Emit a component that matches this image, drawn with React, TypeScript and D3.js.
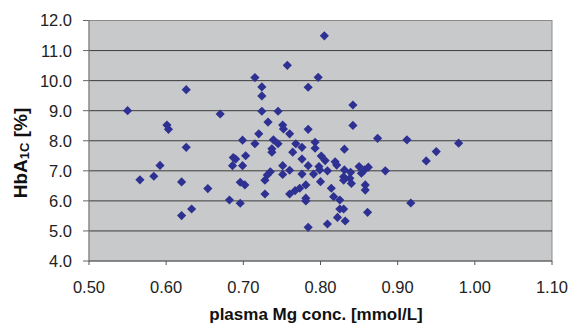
import * as d3 from 'd3';
import * as React from 'react';

// plasma Mg (mmol/L) and HbA1c (%)
const mgValues = [
  0.55, 0.566, 0.584, 0.592, 0.601, 0.603, 0.62, 0.62, 0.626, 0.626, 0.633, 0.654, 0.67, 0.682, 0.687, 0.69,
  0.686, 0.696, 0.696, 0.699, 0.699, 0.702, 0.703, 0.715, 0.715, 0.72, 0.724, 0.724, 0.724, 0.728, 0.728, 0.731,
  0.732, 0.735, 0.737, 0.737, 0.739, 0.745, 0.745, 0.751, 0.752, 0.751, 0.751, 0.757, 0.76, 0.76, 0.76, 0.764,
  0.767, 0.768, 0.773, 0.776, 0.776, 0.776, 0.781, 0.781, 0.781, 0.784, 0.784, 0.784, 0.784, 0.791, 0.793, 0.793,
  0.797, 0.798, 0.799, 0.8, 0.801, 0.805, 0.806, 0.809, 0.809, 0.814, 0.817, 0.819, 0.821, 0.822, 0.825, 0.825,
  0.83, 0.83, 0.83, 0.831, 0.831, 0.832, 0.838, 0.839, 0.84, 0.842, 0.842, 0.85, 0.853, 0.857, 0.858, 0.858,
  0.861, 0.862, 0.874, 0.884, 0.912, 0.917, 0.937, 0.95, 0.979,
];
const hba1cValues = [
  9.0, 6.7, 6.82, 7.18, 8.52, 8.38, 6.63, 5.51, 9.7, 7.78, 5.73, 6.41, 8.89, 6.03, 7.44, 7.39,
  7.17, 6.62, 5.92, 8.02, 7.17, 6.53, 7.5, 10.1, 7.9, 8.23, 9.79, 9.49, 8.98, 6.69, 6.23, 6.86,
  8.62, 6.97, 7.73, 7.62, 8.03, 8.98, 7.9, 8.52, 8.39, 7.17, 6.88, 10.51, 8.23, 7.02, 6.23, 7.62,
  6.34, 7.9, 6.42, 7.78, 7.39, 6.89, 6.53, 6.09, 6.0, 9.78, 8.38, 7.17, 5.12, 6.89, 7.95, 7.75,
  10.11, 7.14, 7.03, 6.64, 7.49, 11.49, 7.34, 7.0, 5.23, 6.42, 6.14, 7.3, 7.19, 5.45, 6.03, 5.73,
  5.73, 6.8, 6.69, 7.72, 7.03, 5.33, 6.75, 6.95, 6.58, 9.19, 8.51, 7.14, 6.92, 7.03, 6.53, 6.36,
  5.62, 7.12, 8.08, 7.0, 8.03, 5.93, 7.33, 7.64, 7.92,
];
const xTicks = [0.5, 0.6, 0.7, 0.8, 0.9, 1.0, 1.1];
const yTicks = [4, 5, 6, 7, 8, 9, 10, 11, 12];

const W = 568;
const H = 325;
const plot = { left: 89, right: 552, top: 20.5, bottom: 261 };
const font = 'Arial, "Liberation Sans", sans-serif';

const App = () => {
  const x = d3.scaleLinear().domain([0.5, 1.1]).range([plot.left, plot.right]);
  const y = d3.scaleLinear().domain([4, 12]).range([plot.bottom, plot.top]);
  const diamond = d3.symbol(d3.symbolSquare, 42)();

  return (
    <svg width={W} height={H} style={{ position: 'absolute', left: 0, top: 0, background: '#fff' }}>
      <rect
        x={plot.left}
        y={plot.top}
        width={plot.right - plot.left}
        height={plot.bottom - plot.top}
        fill="#c8c9cb"
        stroke="#8a8a8a"
      />
      {yTicks.slice(1, -1).map((t) => (
        <line key={'g' + t} x1={plot.left} x2={plot.right} y1={y(t)} y2={y(t)} stroke="#3c3c3c" strokeWidth={1} />
      ))}
      {/* axes */}
      <line x1={plot.left} x2={plot.left} y1={plot.top} y2={plot.bottom} stroke="#8a8a8a" />
      <line x1={plot.left} x2={plot.right} y1={plot.bottom} y2={plot.bottom} stroke="#555" />
      {yTicks.map((t) => (
        <g key={'y' + t}>
          <line x1={plot.left - 6} x2={plot.left} y1={y(t)} y2={y(t)} stroke="#666" />
          <text x={72} y={y(t)} dy="0.36em" textAnchor="end" fontFamily={font} fontSize={16.5} fill="#222">
            {d3.format('.1f')(t)}
          </text>
        </g>
      ))}
      {xTicks.map((t) => (
        <g key={'x' + t}>
          <line x1={x(t)} x2={x(t)} y1={plot.bottom} y2={plot.bottom + 4} stroke="#555" />
          <text x={x(t)} y={293} textAnchor="middle" fontFamily={font} fontSize={16.5} fill="#222">
            {d3.format('.2f')(t)}
          </text>
        </g>
      ))}
      {mgValues.map((v, i) => (
        <path key={i} d={diamond} transform={`translate(${x(v)},${y(hba1cValues[i])}) rotate(45)`} fill="#2e3192" />
      ))}
      <text x={316} y={320} textAnchor="middle" fontFamily={font} fontSize={17} fontWeight="bold" fill="#111">
        plasma Mg conc. [mmol/L]
      </text>
      <text
        transform="translate(27,153) rotate(-90)"
        textAnchor="middle"
        fontFamily={font}
        fontSize={19}
        fontWeight="bold"
        fill="#111"
      >
        HbA
        <tspan fontSize={13} dy={2}>
          1C
        </tspan>
        <tspan dy={-2}> [%]</tspan>
      </text>
    </svg>
  );
};

export default App;
